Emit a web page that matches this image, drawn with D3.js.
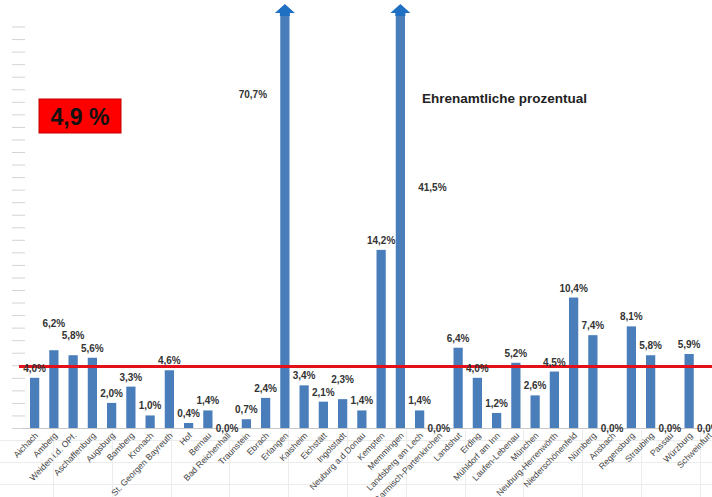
<!DOCTYPE html>
<html>
<head>
<meta charset="utf-8">
<script src="https://cdn.jsdelivr.net/npm/d3@7"></script>
<style>
  html, body { margin: 0; padding: 0; background: #fff; }
  svg { display: block; }
</style>
</head>
<body>
<svg id="chart" width="712" height="497"></svg>
<script>
// ---- data ----
const categories = [
  "Aichach", "Amberg", "Weiden i.d. OPf.", "Aschaffenburg", "Augsburg", "Bamberg",
  "Kronach", "St. Georgen Bayreuth", "Hof", "Bernau", "Bad Reichenhall", "Traunstein",
  "Ebrach", "Erlangen", "Kaisheim", "Eichstätt", "Ingolstadt", "Neuburg a.d Donau",
  "Kempten", "Memmingen", "Landsberg am Lech", "Garmisch-Partenkirchen", "Landshut", "Erding",
  "Mühldorf am Inn", "Laufen-Lebenau", "München", "Neuburg-Herrenwörth", "Niederschönenfeld", "Nürnberg",
  "Ansbach", "Regensburg", "Straubing", "Passau", "Würzburg", "Schweinfurt"
];
const values = [
  4.0, 6.2, 5.8, 5.6, 2.0, 3.3,
  1.0, 4.6, 0.4, 1.4, 0.0, 0.7,
  2.4, 70.7, 3.4, 2.1, 2.3, 1.4,
  14.2, 41.5, 1.4, 0.0, 6.4, 4.0,
  1.2, 5.2, 2.6, 4.5, 10.4, 7.4,
  0.0, 8.1, 5.8, 0.0, 5.9, 0.0
];
const averageValue = 4.9;
const averageLabel = "4,9 %";
const chartTitle = "Ehrenamtliche prozentual";
const yTickValues = d3.range(0, 33);
// bars too tall for the visible axis: label side (-1 left / +1 right) and level on the y scale
const overflowNotes = { "Erlangen": { side: -1, level: 26.3 }, "Memmingen": { side: 1, level: 18.9 } };

// ---- layout ----
const svg = d3.select("#chart");
const W = 712, H = 497;
const base = 428;
const FONT = "Liberation Sans, Arial, sans-serif";

const x = d3.scaleBand()
  .domain(categories)
  .range([25, 718])
  .paddingInner(0.52)
  .paddingOuter(0.26);

const y = d3.scaleLinear()
  .domain([0, 33])
  .range([base, 14])
  .clamp(true);

const fmt = v => v.toFixed(1).replace(".", ",") + "%";

// faint spreadsheet grid behind the category labels
const gridG = svg.append("g").attr("stroke", "#ececec").attr("stroke-width", 1);
[440, 462, 484].forEach(yy => {
  gridG.append("line").attr("x1", 0).attr("x2", W).attr("y1", yy + 0.5).attr("y2", yy + 0.5);
});
d3.range(53, W, 58.8).forEach(xx => {
  gridG.append("line").attr("x1", Math.round(xx) + 0.5).attr("x2", Math.round(xx) + 0.5)
    .attr("y1", 430).attr("y2", H);
});

// left ticks (no labels)
const yAxis = svg.append("g")
  .attr("transform", "translate(25,0)")
  .call(d3.axisLeft(y).tickValues(yTickValues).tickSize(13).tickFormat(""));
yAxis.select(".domain").remove();
yAxis.selectAll(".tick line").attr("stroke", "#d4d4d4").attr("stroke-width", 1);

// baseline
svg.append("line")
  .attr("x1", 22).attr("x2", W)
  .attr("y1", base + 0.5).attr("y2", base + 0.5)
  .attr("stroke", "#c8c8c8").attr("stroke-width", 1);

// bars
const data = categories.map((c, i) => ({ c, v: values[i], i }));
svg.append("g").selectAll("rect")
  .data(data)
  .join("rect")
  .attr("x", d => x(d.c))
  .attr("width", x.bandwidth())
  .attr("y", d => y(d.v))
  .attr("height", d => base - y(d.v))
  .attr("fill", "#4a7ebb");

// arrowheads on clipped bars
const clipped = data.filter(d => d.v > y.domain()[1]);
svg.append("g").selectAll("path")
  .data(clipped)
  .join("path")
  .attr("d", d => {
    const cx = x(d.c) + x.bandwidth() / 2;
    const top = y.range()[1];
    return `M${cx},${top - 10} L${cx + 10},${top - 1} L${cx + 5},${top - 1} L${cx + 5},${top + 2} L${cx - 5},${top + 2} L${cx - 5},${top - 1} L${cx - 10},${top - 1} Z`;
  })
  .attr("fill", "#1f6fc2");

// average line
svg.append("line")
  .attr("x1", 19).attr("x2", W)
  .attr("y1", y(averageValue)).attr("y2", y(averageValue))
  .attr("stroke", "#e3101a").attr("stroke-width", 3);

// value labels: natural position, then lift taller bars' labels above colliding neighbours
const labels = data.map(d => {
  const cx = x(d.c) + x.bandwidth() / 2;
  const n = overflowNotes[d.c];
  let lx = cx, ly;
  if (n) { lx = cx + n.side * 32; ly = y(n.level); }
  else ly = d.v === 0 ? base + 4 : y(d.v) - 6;
  return { d, x: lx, y: ly, w: fmt(d.v).length * 5.8, fixed: !!n };
});
const placed = [];
labels.slice().sort((a, b) => a.d.v - b.d.v).forEach(l => {
  if (!l.fixed) {
    let moved = true;
    while (moved) {
      moved = false;
      for (const p of placed) {
        if (Math.abs(p.x - l.x) < (p.w + l.w) / 2 && Math.abs(p.y - l.y) < 12) {
          l.y = p.y - 12.5;
          moved = true;
        }
      }
    }
  }
  placed.push(l);
});

svg.append("g").selectAll("text")
  .data(labels)
  .join("text")
  .attr("x", l => l.x)
  .attr("y", l => l.y)
  .attr("text-anchor", "middle")
  .attr("font-family", FONT)
  .attr("font-weight", "bold")
  .attr("font-size", 10)
  .attr("fill", "#333")
  .text(l => fmt(l.d.v));

// category axis
const xAxis = svg.append("g")
  .attr("transform", `translate(0,${base})`)
  .call(d3.axisBottom(x).tickSize(0));
xAxis.select(".domain").remove();
xAxis.selectAll(".tick text")
  .attr("font-family", FONT)
  .attr("font-size", 8.7)
  .attr("fill", "#444")
  .attr("text-anchor", "end")
  .attr("x", 0).attr("y", 0).attr("dy", 0)
  .attr("transform", "translate(4,8) rotate(-46)");

// average box
const boxG = svg.append("g");
boxG.append("rect")
  .attr("x", 39).attr("y", 99).attr("width", 82).attr("height", 34)
  .attr("fill", "#ff0000").attr("stroke", "#c00000").attr("stroke-width", 1);
boxG.append("text")
  .attr("x", 80).attr("y", 124.5)
  .attr("text-anchor", "middle")
  .attr("font-family", FONT)
  .attr("font-weight", "bold")
  .attr("font-size", 23)
  .attr("fill", "#111")
  .text(averageLabel);

// title
svg.append("text")
  .attr("x", 422).attr("y", 103)
  .attr("font-family", FONT)
  .attr("font-weight", "bold")
  .attr("font-size", 13.5)
  .attr("fill", "#222")
  .text(chartTitle);
</script>
</body>
</html>
